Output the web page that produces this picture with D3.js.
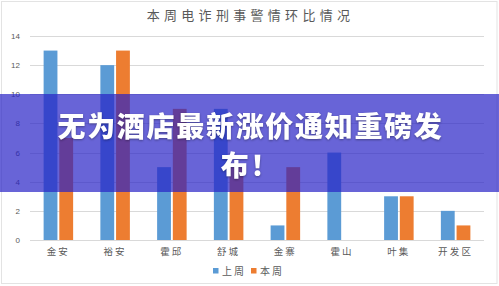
<!DOCTYPE html>
<html>
<head>
<meta charset="utf-8">
<script src="https://cdn.jsdelivr.net/npm/d3@7"></script>
<style>
  html, body { margin: 0; padding: 0; background: #fff; }
  svg { display: block; font-family: "Noto Sans CJK SC", "Noto Sans", sans-serif; }
</style>
</head>
<body>
<svg id="chart" width="499" height="286"></svg>
<script>
const categories = ['金安', '裕安', '霍邱', '舒城', '金寨', '霍山', '叶集', '开发区']
const lastWeek = [13, 12, 5, 9, 1, 6, 3, 2]
const thisWeek = [7, 13, 9, 5, 5, 0, 3, 1]
const seriesNames = ['上周', '本周']
const yTicks = [0, 2, 4, 6, 8, 10, 12, 14]
const title = '本周电诈刑事警情环比情况'
const bannerLines = ['无为酒店最新涨价通知重磅发', '布！']

const colors = { '上周': '#5b9bd5', '本周': '#ed7d31' }

const svg = d3.select('#chart')
const width = 499, height = 286
const margin = { top: 36, right: 15, bottom: 46, left: 30 }

// outer frame of the chart image
svg.append('rect')
  .attr('x', 1.5).attr('y', 1.5)
  .attr('width', width - 3.5).attr('height', height - 4)
  .attr('fill', '#fff')
  .attr('stroke', '#e3e3e3')

svg.append('text')
  .attr('x', width / 2 + 1)
  .attr('y', 20)
  .attr('text-anchor', 'middle')
  .attr('font-size', 13)
  .attr('letter-spacing', 4.3)
  .attr('fill', '#595959')
  .text(title)

const x0 = d3.scaleBand()
  .domain(categories)
  .range([margin.left, width - margin.right])
  .paddingInner(0.48)
  .paddingOuter(0.24)

const x1 = d3.scaleBand()
  .domain(seriesNames)
  .range([0, x0.bandwidth()])
  .paddingInner(0.12)

const y = d3.scaleLinear()
  .domain([0, 14])
  .range([height - margin.bottom, margin.top])

// gridlines
svg.append('g')
  .selectAll('line')
  .data(yTicks)
  .join('line')
    .attr('x1', margin.left)
    .attr('x2', width - margin.right)
    .attr('y1', d => Math.round(y(d)) + 0.5)
    .attr('y2', d => Math.round(y(d)) + 0.5)
    .attr('stroke', '#d9d9d9')

const yAxis = g => g
  .attr('transform', `translate(${margin.left - 10},0)`)
  .call(d3.axisLeft(y).tickValues(yTicks).tickSize(0).tickPadding(0))
  .call(g => g.select('.domain').remove())
  .call(g => g.selectAll('text')
    .attr('font-size', 8)
    .attr('fill', '#595959')
    .attr('font-family', 'Liberation Sans, Arial, sans-serif'))

svg.append('g').call(yAxis)

const table = categories.map((c, i) => ({ category: c, values: [
  { name: '上周', value: lastWeek[i] },
  { name: '本周', value: thisWeek[i] }
] }))

svg.append('g')
  .selectAll('g')
  .data(table)
  .join('g')
    .attr('transform', d => `translate(${x0(d.category)},0)`)
  .selectAll('rect')
  .data(d => d.values)
  .join('rect')
    .attr('x', d => x1(d.name))
    .attr('y', d => y(d.value))
    .attr('width', x1.bandwidth())
    .attr('height', d => y(0) - y(d.value))
    .attr('fill', d => colors[d.name])

const xAxis = g => g
  .attr('transform', `translate(0,${y(0)})`)
  .call(d3.axisBottom(x0).tickSize(0).tickPadding(8))
  .call(g => g.select('.domain').remove())
  .call(g => g.selectAll('text')
    .attr('font-size', 9.5)
    .attr('letter-spacing', 2.2)
    .attr('fill', '#595959')
    .attr('font-family', '"Noto Sans CJK SC", sans-serif'))

svg.append('g').call(xAxis)

// legend
const legend = svg.append('g').attr('transform', 'translate(213,268)')
const legendItems = legend.selectAll('g')
  .data(seriesNames)
  .join('g')
    .attr('transform', (d, i) => `translate(${i * 38},0)`)
legendItems.append('rect')
  .attr('width', 5.5).attr('height', 5.5)
  .attr('fill', d => colors[d])
legendItems.append('text')
  .attr('x', 9)
  .attr('y', 6.5)
  .attr('font-size', 10)
  .attr('letter-spacing', 2)
  .attr('fill', '#595959')
  .text(d => d)

// purple headline banner on top of the chart
svg.append('rect')
  .attr('x', 0).attr('y', 94)
  .attr('width', width).attr('height', 98)
  .attr('fill', 'rgba(40,34,198,0.7)')

const banner = svg.append('g')
  .attr('font-size', 28)
  .attr('font-weight', 900)
  .attr('fill', '#fff')
  .attr('text-anchor', 'middle')
  .style('paint-order', 'stroke')
  .style('filter', 'drop-shadow(0 1px 1px rgba(0,0,0,0.35))')

banner.selectAll('text')
  .data(bannerLines)
  .join('text')
    .attr('x', width / 2 + 1)
    .attr('y', (d, i) => 137 + i * 39)
    .attr('letter-spacing', 1.7)
    .text(d => d)
</script>
</body>
</html>
